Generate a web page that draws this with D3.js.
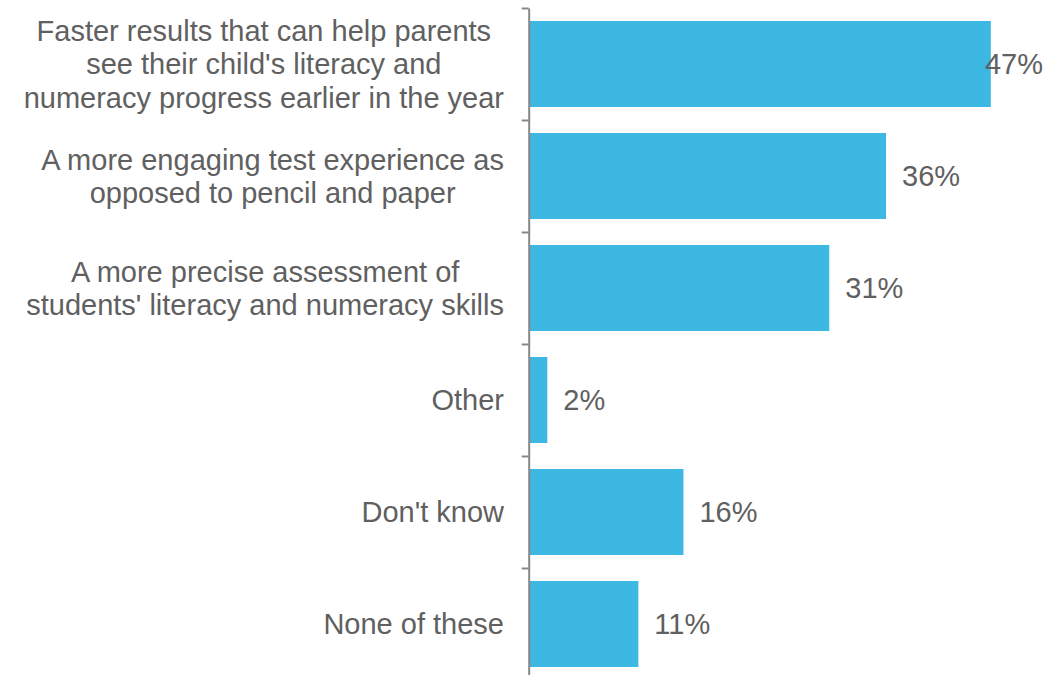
<!DOCTYPE html>
<html>
<head>
<meta charset="utf-8">
<script src="https://cdn.jsdelivr.net/npm/d3@7"></script>
<style>
  html, body { margin: 0; padding: 0; background: #fff; }
  svg { display: block; }
  text { font-family: "Liberation Sans", Arial, sans-serif; }
</style>
</head>
<body>
<svg id="chart" width="1059" height="675"></svg>
<script>
const categories = [
  "Faster results that can help parents\nsee their child's literacy and\nnumeracy progress earlier in the year",
  "A more engaging test experience as\nopposed to pencil and paper",
  "A more precise assessment of\nstudents' literacy and numeracy skills",
  "Other",
  "Don't know",
  "None of these"
];
const values = [47.1, 36.4, 30.6, 1.8, 15.7, 11.1];
const tickSlots = [0, 1, 2, 3, 4, 5, 6];

const W = 1059, H = 675;
const fs = 29;
const textColor = "#606060";
const barColor = "#3cb8e3";
const axisColor = "#888888";

const svg = d3.select("#chart");

const y = d3.scaleBand()
  .domain(categories)
  .range([8, 680])
  .paddingInner(0.232)
  .paddingOuter(0.116);

const yTicks = d3.scaleLinear().domain([0, 6]).range([8, 680]);

const x = d3.scaleLinear().domain([0, 50]).range([529.7, 529.7 + 489.5]);

// bars
svg.append("g").selectAll("rect")
  .data(values)
  .join("rect")
  .attr("x", x(0))
  .attr("y", (d, i) => y(categories[i]))
  .attr("width", d => x(d) - x(0))
  .attr("height", y.bandwidth())
  .attr("fill", barColor);

// axis
const axis = svg.append("g")
  .attr("transform", "translate(528.7,0)")
  .call(d3.axisLeft(yTicks).tickValues(tickSlots).tickSize(7).tickSizeOuter(0).tickFormat(""));
axis.select(".domain").attr("stroke", axisColor).attr("stroke-width", 2);
axis.selectAll(".tick line").attr("stroke", axisColor).attr("stroke-width", 2);

// category labels: lines centred, block right-aligned
const lh = 33.3;
const rightEdge = 504;
const lab = svg.append("g").selectAll("text")
  .data(categories)
  .join("text")
  .attr("text-anchor", "middle")
  .attr("font-size", fs)
  .attr("fill", textColor);
lab.each(function(d) {
  const lines = d.split("\n");
  const cy = y(d) + y.bandwidth() / 2;
  const t = d3.select(this);
  const spans = lines.map((ln, k) => t.append("tspan")
      .attr("y", cy + 0.358 * fs + (k - (lines.length - 1) / 2) * lh)
      .text(ln));
  const maxW = d3.max(spans, s => s.node().getComputedTextLength());
  spans.forEach(s => s.attr("x", rightEdge - maxW / 2));
});

// value labels
const fmt = v => d3.format(".0f")(v) + "%";
svg.append("g").selectAll("text")
  .data(values)
  .join("text")
  .attr("font-size", fs)
  .attr("fill", textColor)
  .attr("y", (d, i) => y(categories[i]) + y.bandwidth() / 2 + 0.358 * fs)
  .text(d => fmt(d))
  .attr("x", function(d) {
    const w = this.getComputedTextLength();
    return Math.min(x(d) + 16, W - 16 - w);
  });
</script>
</body>
</html>
